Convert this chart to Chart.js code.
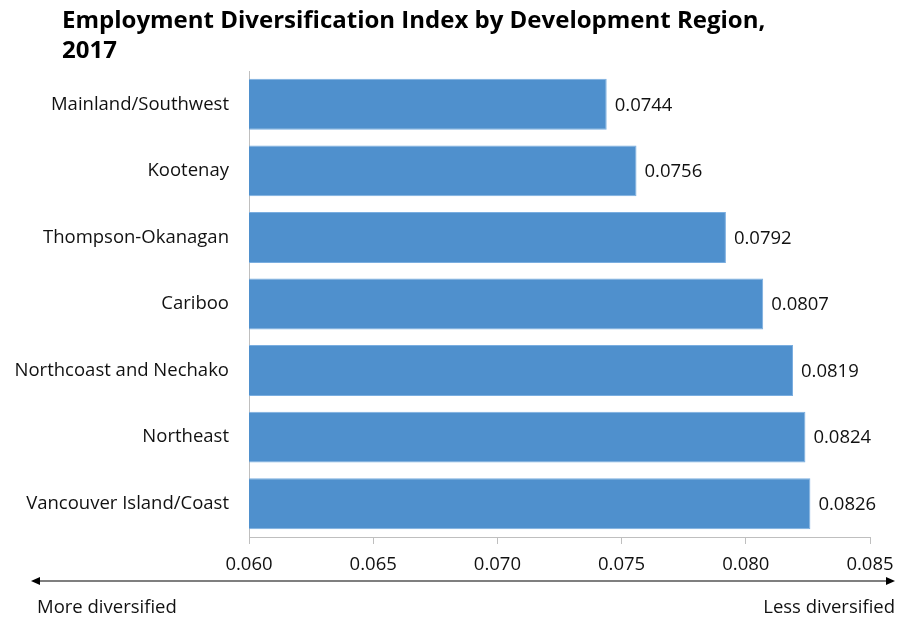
<!DOCTYPE html>
<html>
<head>
<meta charset="utf-8">
<script src="https://cdn.jsdelivr.net/npm/chart.js@4.4.1/dist/chart.umd.min.js"></script>
<style>
  html, body { margin: 0; padding: 0; background: #fff; }
  #wrap { width: 897px; height: 621px; position: relative; }
</style>
</head>
<body>
<div id="wrap"><canvas id="chart"></canvas></div>
<script>
(function () {
  'use strict';

  const regions = [
    'Mainland/Southwest',
    'Kootenay',
    'Thompson-Okanagan',
    'Cariboo',
    'Northcoast and Nechako',
    'Northeast',
    'Vancouver Island/Coast'
  ];
  const indexValues = [0.0744, 0.0756, 0.0792, 0.0807, 0.0819, 0.0824, 0.0826];
  const xTicks = [0.060, 0.065, 0.070, 0.075, 0.080, 0.085];
  const titleLines = ['Employment Diversification Index by Development Region,', '2017'];
  const arrowLabels = ['More diversified', 'Less diversified'];

  const FONT = '"Open Sans", "Liberation Sans", sans-serif';
  const SIZE = 18.5;
  const BAR = '#4f90cd';

  // title, value labels and the diversification arrow
  const extras = {
    id: 'extras',
    afterDatasetsDraw(chart) {
      const ctx = chart.ctx;
      const meta = chart.getDatasetMeta(0);
      ctx.save();
      ctx.font = SIZE + 'px ' + FONT;
      ctx.fillStyle = '#111';
      ctx.textAlign = 'left';
      ctx.textBaseline = 'middle';
      meta.data.forEach((bar, i) => {
        ctx.fillText(indexValues[i].toFixed(4), bar.x + 8, bar.y + 1);
      });
      ctx.restore();
    },
    afterDraw(chart) {
      const ctx = chart.ctx;
      ctx.save();
      ctx.fillStyle = '#000';
      ctx.font = 'bold 24px ' + FONT;
      ctx.textAlign = 'left';
      ctx.textBaseline = 'alphabetic';
      ctx.fillText(titleLines[0], 62, 28);
      ctx.fillText(titleLines[1], 62, 58);

      const y = 581;
      const x0 = 31, x1 = 895;
      ctx.strokeStyle = '#000';
      ctx.lineWidth = 1.2;
      ctx.beginPath();
      ctx.moveTo(x0 + 6, y);
      ctx.lineTo(x1 - 6, y);
      ctx.stroke();
      ctx.beginPath();
      ctx.moveTo(x0, y);
      ctx.lineTo(x0 + 9, y - 4);
      ctx.lineTo(x0 + 9, y + 4);
      ctx.closePath();
      ctx.fill();
      ctx.beginPath();
      ctx.moveTo(x1, y);
      ctx.lineTo(x1 - 9, y - 4);
      ctx.lineTo(x1 - 9, y + 4);
      ctx.closePath();
      ctx.fill();

      ctx.font = SIZE + 'px ' + FONT;
      ctx.fillStyle = '#111';
      ctx.textBaseline = 'middle';
      ctx.textAlign = 'left';
      ctx.fillText(arrowLabels[0], 37, 608);
      ctx.textAlign = 'right';
      ctx.fillText(arrowLabels[1], 895, 608);
      ctx.restore();
    }
  };

  new Chart(document.getElementById('chart'), {
    type: 'bar',
    data: {
      labels: regions,
      datasets: [{
        data: indexValues,
        backgroundColor: BAR,
        borderColor: '#7aaee0',
        borderWidth: 1,
        barPercentage: 0.765,
        categoryPercentage: 1.0
      }]
    },
    options: {
      indexAxis: 'y',
      responsive: true,
      maintainAspectRatio: false,
      animation: false,
      layout: { padding: { top: 71, right: 27, bottom: 0, left: 0 } },
      plugins: {
        legend: { display: false },
        title: { display: false },
        tooltip: { enabled: false }
      },
      scales: {
        x: {
          min: 0.06,
          max: 0.085,
          afterFit(scale) {
            scale.height = 84;
            scale.paddingLeft = 0;
            scale.paddingRight = 0;
          },
          afterBuildTicks(scale) { scale.ticks = xTicks.map(v => ({ value: v })); },
          ticks: {
            padding: 10,
            color: '#111',
            font: { family: FONT, size: SIZE },
            callback: v => Number(v).toFixed(3)
          },
          grid: {
            drawOnChartArea: false,
            drawTicks: true,
            tickLength: 7,
            color: '#bfbfbf'
          },
          border: { display: true, color: '#bfbfbf', width: 1 }
        },
        y: {
          afterFit(scale) { scale.width = 249; },
          ticks: {
            padding: 20,
            color: '#111',
            font: { family: FONT, size: SIZE }
          },
          grid: { display: false, drawTicks: false },
          border: { display: true, color: '#bfbfbf', width: 1 }
        }
      }
    },
    plugins: [extras]
  });
})();
</script>
</body>
</html>
